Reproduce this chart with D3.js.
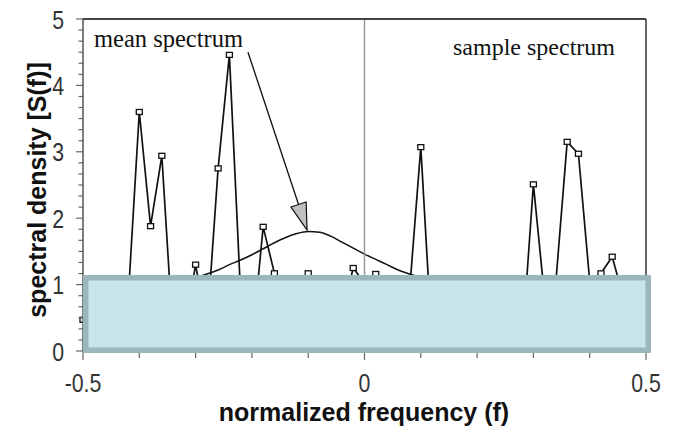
<!DOCTYPE html>
<html><head><meta charset="utf-8">
<script src="https://cdn.jsdelivr.net/npm/d3@7"></script>
<style>html,body{margin:0;padding:0;background:#fff;} svg{display:block}</style>
</head><body>
<svg id="chart" width="673" height="435"></svg>
<script>
// ---- data ----
const sampleFreq = [-0.50,-0.48,-0.46,-0.44,-0.42,-0.40,-0.38,-0.36,-0.34,-0.32,-0.30,-0.28,-0.26,-0.24,-0.22,-0.20,-0.18,-0.16,-0.14,-0.12,-0.10,-0.08,-0.06,-0.04,-0.02,0.00,0.02,0.04,0.06,0.08,0.10,0.12,0.14,0.16,0.18,0.20,0.22,0.24,0.26,0.28,0.30,0.32,0.34,0.36,0.38,0.40,0.42,0.44,0.46,0.48,0.50];
const sampleValues = [0.47,0.30,0.60,0.20,0.75,3.60,1.88,2.94,0.21,0.30,1.30,0.32,2.75,4.46,0.84,0.10,1.87,1.17,0.60,0.40,1.17,0.50,0.90,0.57,1.25,1.02,1.16,0.40,0.70,0.90,3.07,0.10,0.80,0.50,0.20,0.90,0.60,0.30,1.00,0.10,2.51,0.80,1.05,3.15,2.97,1.05,1.17,1.42,0.80,0.40,0.60];
const meanFreq = [-0.32,-0.30,-0.28,-0.26,-0.24,-0.22,-0.20,-0.18,-0.16,-0.14,-0.12,-0.10,-0.08,-0.06,-0.04,-0.02,0.00,0.02,0.04,0.06,0.08,0.10,0.12];
const meanValues = [1.04,1.10,1.16,1.22,1.30,1.37,1.45,1.54,1.63,1.71,1.77,1.80,1.79,1.73,1.64,1.55,1.46,1.38,1.30,1.22,1.16,1.10,1.05];
const xTickLabels = [-0.5, 0, 0.5];
const xMinorTicks = [-0.5,-0.4,-0.3,-0.2,-0.1,0,0.1,0.2,0.3,0.4,0.5];
const yTickLabels = [0, 1, 2, 3, 4, 5];
const boxLevel = 1.145;           // level of the covering band
const arrowFrom = [-0.207, 4.5];  // annotation arrow start (data units)
const arrowTo = [-0.102, 1.82];   // annotation arrow tip (data units)

// ---- scales ----
const svg = d3.select('#chart');
const x = d3.scaleLinear().domain([-0.5, 0.5]).range([83, 646]);
const y = d3.scaleLinear().domain([0, 5]).range([351, 19]);
const tickFont = '"Liberation Sans", Arial, sans-serif';

// mean spectrum curve
svg.append('path')
  .datum(meanFreq.map((f, i) => [f, meanValues[i]]))
  .attr('d', d3.line().x(d => x(d[0])).y(d => y(d[1])).curve(d3.curveMonotoneX))
  .attr('fill', 'none').attr('stroke', '#111').attr('stroke-width', 1.5);

// sample spectrum
const sampleData = sampleFreq.map((f, i) => [f, sampleValues[i]]);
svg.append('path')
  .datum(sampleData)
  .attr('d', d3.line().x(d => x(d[0])).y(d => y(d[1])))
  .attr('fill', 'none').attr('stroke', '#111').attr('stroke-width', 1.7)
  .attr('stroke-linejoin', 'miter');
svg.append('g').selectAll('rect').data(sampleData).join('rect')
  .attr('x', d => x(d[0]) - 3).attr('y', d => y(d[1]) - 2.5)
  .attr('width', 6).attr('height', 5)
  .attr('fill', '#fff').attr('stroke', '#111').attr('stroke-width', 1.3);

// zero frequency line
svg.append('line')
  .attr('x1', x(0)).attr('x2', x(0)).attr('y1', y(5)).attr('y2', y(boxLevel))
  .attr('stroke', '#999').attr('stroke-width', 1.5);

// x axis ticks
const gx = svg.append('g');
gx.selectAll('line').data(xMinorTicks).join('line')
  .attr('x1', d => x(d)).attr('x2', d => x(d))
  .attr('y1', y(0)).attr('y2', d => (Math.abs(d) < 1e-9 || Math.abs(Math.abs(d) - 0.5) < 1e-9) ? y(0) + 9 : y(0) + 7)
  .attr('stroke', '#666').attr('stroke-width', 1.2);
gx.append('line').attr('x1', x(-0.5)).attr('x2', x(0.5)).attr('y1', y(0)).attr('y2', y(0))
  .attr('stroke', '#555').attr('stroke-width', 1.5);
gx.selectAll('text').data(xTickLabels).join('text')
  .attr('transform', d => `translate(${x(d)},392) scale(0.82,1)`)
  .attr('text-anchor', 'middle')
  .attr('font-family', tickFont)
  .attr('font-size', 26).attr('fill', '#333')
  .text(d => d === 0 ? '0' : String(d));

// y axis
const gy = svg.append('g');
const yMinor = d3.range(0, 30 + 1).map(k => k / 6);
gy.selectAll('line.minor').data(yMinor).join('line')
  .attr('class', 'minor')
  .attr('x1', d => Math.abs(d - Math.round(d)) < 1e-6 ? x(-0.5) - 7 : x(-0.5) - 4.5)
  .attr('x2', x(-0.5))
  .attr('y1', d => y(d)).attr('y2', d => y(d))
  .attr('stroke', '#666').attr('stroke-width', 1.2);
gy.append('line').attr('x1', x(-0.5)).attr('x2', x(-0.5)).attr('y1', y(0)).attr('y2', y(5))
  .attr('stroke', '#555').attr('stroke-width', 1.5);
gy.selectAll('text').data(yTickLabels).join('text')
  .attr('transform', d => `translate(64,${y(d) + 9.5}) scale(0.82,1)`)
  .attr('text-anchor', 'end')
  .attr('font-family', tickFont)
  .attr('font-size', 26).attr('fill', '#333')
  .text(d => String(d));

// covering band
svg.append('rect')
  .attr('x', x(-0.5) + 2.75).attr('y', y(boxLevel) + 2.75)
  .attr('width', x(0.5) + 5 - x(-0.5) - 5.5)
  .attr('height', y(0) + 2 - y(boxLevel) - 5.5)
  .attr('fill', '#c5e5e8').attr('stroke', '#9bb7ba').attr('stroke-width', 5.5);

// frame: top and right
svg.append('line').attr('x1', x(-0.5)).attr('x2', x(0.5)).attr('y1', y(5)).attr('y2', y(5))
  .attr('stroke', '#444').attr('stroke-width', 2);
svg.append('line').attr('x1', x(0.5)).attr('x2', x(0.5)).attr('y1', y(5)).attr('y2', y(boxLevel))
  .attr('stroke', '#333').attr('stroke-width', 1.5);

// annotations
svg.append('text').attr('x', 94).attr('y', 47)
  .attr('font-family', '"Liberation Serif", "Times New Roman", serif')
  .attr('font-size', 24.5).attr('fill', '#111').text('mean spectrum');
svg.append('text').attr('x', 453).attr('y', 55)
  .attr('font-family', '"Liberation Serif", "Times New Roman", serif')
  .attr('font-size', 24).attr('fill', '#111').text('sample spectrum');

const ax0 = x(arrowFrom[0]), ay0 = y(arrowFrom[1]);
const ax1 = x(arrowTo[0]), ay1 = y(arrowTo[1]);
const dx = ax1 - ax0, dy = ay1 - ay0, len = Math.hypot(dx, dy);
const ux = dx / len, uy = dy / len;
const headLen = 27, headHalf = 8;
const bx = ax1 - ux * headLen, by = ay1 - uy * headLen;
svg.append('line').attr('x1', ax0).attr('y1', ay0).attr('x2', bx).attr('y2', by)
  .attr('stroke', '#111').attr('stroke-width', 1.3);
svg.append('path')
  .attr('d', `M${ax1},${ay1} L${bx - uy * headHalf},${by + ux * headHalf} L${bx + uy * headHalf},${by - ux * headHalf} Z`)
  .attr('fill', '#c0c0c0').attr('stroke', '#111').attr('stroke-width', 1.2);

// axis titles
svg.append('text')
  .attr('transform', 'translate(46,190) rotate(-90)')
  .attr('text-anchor', 'middle')
  .attr('font-family', '"Liberation Sans", Arial, sans-serif')
  .attr('font-weight', 'bold').attr('font-size', 25).attr('fill', '#111')
  .text('spectral density [S(f)]');
svg.append('text')
  .attr('x', 364).attr('y', 421)
  .attr('text-anchor', 'middle')
  .attr('font-family', '"Liberation Sans", Arial, sans-serif')
  .attr('font-weight', 'bold').attr('font-size', 25).attr('fill', '#111')
  .text('normalized frequency (f)');
</script>
</body></html>
